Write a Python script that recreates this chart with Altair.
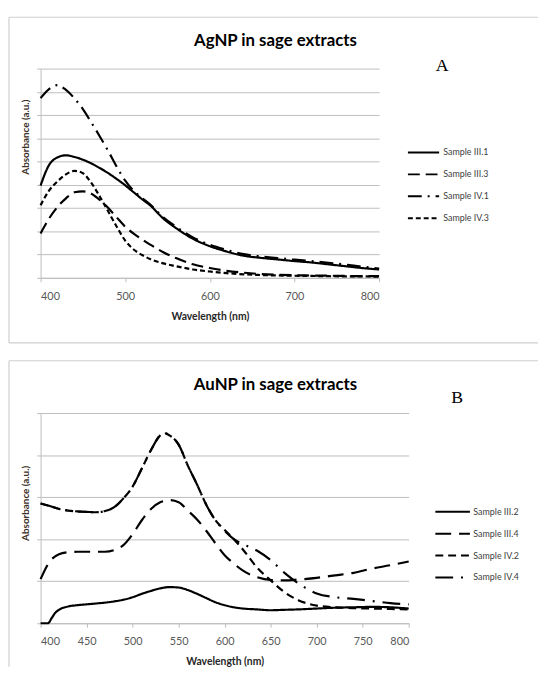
import altair as alt
import pandas as pd

# ---------------- Panel A: AgNP ----------------
title_A = "AgNP in sage extracts"
letter_A = "A"
series_A = ["Sample III.1", "Sample III.3", "Sample IV.1", "Sample IV.3"]
dash_A = [[1, 0], [12, 6], [14, 6, 2, 6], [5, 3]]
wl_A = [400, 410, 420, 430, 440, 450, 460, 470, 480, 490, 500, 510, 520, 530,
        545, 560, 580, 600, 620, 640, 660, 680, 700, 720, 740, 760, 780, 800]
A_III1 = [3.97, 4.85, 5.18, 5.27, 5.20, 5.08, 4.92, 4.72, 4.50, 4.25, 3.98, 3.68, 3.38, 3.10,
          2.55, 2.14, 1.68, 1.36, 1.13, 0.95, 0.86, 0.79, 0.72, 0.66, 0.58, 0.50, 0.42, 0.36]
A_III3 = [1.91, 2.55, 3.05, 3.42, 3.68, 3.72, 3.62, 3.35, 3.00, 2.60, 2.20, 1.90, 1.65, 1.42,
          1.10, 0.85, 0.58, 0.42, 0.30, 0.22, 0.16, 0.13, 0.11, 0.10, 0.09, 0.08, 0.07, 0.07]
A_IV1 = [7.73, 8.12, 8.29, 8.08, 7.72, 7.26, 6.68, 6.08, 5.45, 4.78, 4.18, 3.74, 3.43, 3.14,
         2.60, 2.20, 1.74, 1.42, 1.20, 1.02, 0.92, 0.85, 0.78, 0.72, 0.65, 0.57, 0.48, 0.40]
A_IV3 = [3.12, 3.75, 4.15, 4.45, 4.60, 4.50, 4.08, 3.50, 2.85, 2.20, 1.60, 1.22, 0.98, 0.80,
         0.62, 0.50, 0.36, 0.27, 0.20, 0.15, 0.12, 0.10, 0.09, 0.08, 0.07, 0.06, 0.06, 0.05]

# ---------------- Panel B: AuNP ----------------
title_B = "AuNP in sage extracts"
letter_B = "B"
series_B = ["Sample III.2", "Sample III.4", "Sample IV.2", "Sample IV.4"]
dash_B = [[1, 0], [16, 8], [8, 5], [18, 8, 2, 8]]
wl_B = [400, 410, 420, 430, 440, 450, 460, 470, 480, 490, 500, 510, 520, 530, 535, 540,
        550, 560, 570, 580, 590, 600, 610, 620, 635, 650, 665, 680, 700, 720, 740, 760, 780, 800]
B_III4 = [1.05, 1.47, 1.64, 1.69, 1.70, 1.70, 1.70, 1.70, 1.74, 1.86, 2.12, 2.45, 2.72, 2.88, 2.91, 2.93,
          2.88, 2.68, 2.47, 2.20, 1.90, 1.62, 1.42, 1.25, 1.10, 1.03, 1.02, 1.04, 1.08, 1.14, 1.20, 1.30, 1.38, 1.47]
B_IV2 = [2.85, 2.79, 2.72, 2.68, 2.66, 2.65, 2.64, 2.67, 2.76, 2.97, 3.25, 3.68, 4.12, 4.47, 4.52, 4.47,
         4.25, 3.75, 3.30, 2.82, 2.45, 2.22, 2.00, 1.75, 1.33, 1.02, 0.74, 0.55, 0.42, 0.38, 0.36, 0.35, 0.34, 0.33]
B_IV4 = [2.85, 2.79, 2.72, 2.68, 2.66, 2.65, 2.64, 2.67, 2.76, 2.97, 3.25, 3.68, 4.12, 4.47, 4.52, 4.47,
         4.25, 3.75, 3.30, 2.82, 2.45, 2.20, 2.00, 1.88, 1.73, 1.50, 1.20, 0.95, 0.71, 0.62, 0.58, 0.53, 0.48, 0.45]
wl_B_III2 = [400, 408, 412, 416, 420, 430, 440, 450, 460, 470, 480, 490, 500, 510, 520, 530, 540, 550,
             560, 570, 580, 590, 600, 610, 620, 635, 650, 665, 680, 700, 720, 740, 760, 780, 800]
B_III2 = [0.0, 0.0, 0.12, 0.25, 0.32, 0.40, 0.43, 0.45, 0.47, 0.49, 0.52, 0.56, 0.62, 0.70, 0.77, 0.83, 0.86, 0.85,
          0.79, 0.70, 0.60, 0.50, 0.43, 0.38, 0.35, 0.33, 0.31, 0.32, 0.33, 0.35, 0.37, 0.38, 0.39, 0.38, 0.35]

x_title = "Wavelength (nm)"
y_title = "Absorbance (a.u.)"


def long_df(items):
    rows = []
    for name, wls, vals in items:
        for w, v in zip(wls, vals):
            rows.append({"wavelength": w, "absorbance": v, "series": name})
    return pd.DataFrame(rows)


df_A = long_df([(series_A[0], wl_A, A_III1), (series_A[1], wl_A, A_III3),
                (series_A[2], wl_A, A_IV1), (series_A[3], wl_A, A_IV3)])
df_B = long_df([(series_B[0], wl_B_III2, B_III2), (series_B[1], wl_B, B_III4),
                (series_B[2], wl_B, B_IV2), (series_B[3], wl_B, B_IV4)])

FONT = "Lato"
GRID = "#bdbdbd"
BORDER = "#cfcfcf"


def panel(df, series, dashes, ymax, xvalues, width, height, title, letter,
          leg_x, leg_y, sym_size, lab_off, ytitle_y, letter_x, letter_y,
          b_top, b_bottom, draw_bottom):
    one = pd.DataFrame({"t": [title], "l": [letter]})
    lines = alt.Chart(df).mark_line(color="black", strokeWidth=2.2, interpolate="monotone",
                                    strokeCap="butt").encode(
        x=alt.X("wavelength:Q", scale=alt.Scale(domain=[400, 800], nice=False, zero=False),
                axis=alt.Axis(values=xvalues, title=x_title, grid=False, format="d",
                              labelPadding=9, titlePadding=10, tickSize=4)),
        y=alt.Y("absorbance:Q", scale=alt.Scale(domain=[0, ymax], nice=False),
                axis=alt.Axis(values=list(range(ymax + 1)), labels=False, title=y_title,
                              grid=True, tickSize=4, titleX=-10, titleY=ytitle_y,
                              titleColor="#3d3028", titleFontSize=10)),
        strokeDash=alt.StrokeDash("series:N", scale=alt.Scale(domain=series, range=dashes),
                                  legend=alt.Legend(orient="none", legendX=leg_x, legendY=leg_y,
                                                    title=None, symbolType="stroke",
                                                    symbolSize=sym_size, symbolStrokeWidth=2,
                                                    symbolStrokeColor="black", clipHeight=12,
                                                    rowPadding=10.2, labelFont=FONT,
                                                    labelFontSize=9, labelColor="#404040",
                                                    labelOffset=lab_off, padding=0)),
    )
    ttl = alt.Chart(one).mark_text(font=FONT, fontSize=17, fontWeight="bold", align="center",
                                   baseline="middle", color="black").encode(
        text="t:N", x=alt.value(238), y=alt.value(-28))
    let = alt.Chart(one).mark_text(font="Liberation Serif", fontSize=18, align="center",
                                   baseline="middle", color="black").encode(
        text="l:N", x=alt.value(letter_x), y=alt.value(letter_y))
    rules = [
        alt.Chart(one).mark_rule(color=BORDER, strokeWidth=1.2).encode(
            x=alt.value(-32), x2=alt.value(504), y=alt.value(b_top)),
        alt.Chart(one).mark_rule(color=BORDER, strokeWidth=1.2).encode(
            x=alt.value(-32), y=alt.value(b_top), y2=alt.value(b_bottom)),
    ]
    if draw_bottom:
        rules.append(alt.Chart(one).mark_rule(color=BORDER, strokeWidth=1.2).encode(
            x=alt.value(-32), x2=alt.value(504), y=alt.value(b_bottom)))
    return alt.layer(*rules, lines, ttl, let).properties(width=width, height=height)


pA = panel(df_A, series_A, dash_A, 9, [400, 500, 600, 700, 800], 343, 212, title_A, letter_A,
           371, 79, 1000, 3, 69, 407, -3, -52, 278, True)
pB = panel(df_B, series_B, dash_B, 5, list(range(400, 801, 50)), 373, 213, title_B, letter_B,
           399, 94, 1225, 2.5, 91, 422, -15, -53, 257, False)

chart = alt.vconcat(pA, pB, spacing=16).resolve_scale(
    x="independent", y="independent", strokeDash="independent"
).properties(
    padding={"left": 0, "top": 4, "right": 0, "bottom": 0}, background="white"
).configure_view(stroke=None).configure_axis(
    labelFont=FONT, labelFontSize=11, labelColor="#595959", tickColor=GRID,
    domainColor=GRID, gridColor=GRID, gridWidth=1, titleFont=FONT, titleFontSize=10.5,
    titleFontWeight="bold", titleColor="#262626"
)

chart.save("out.html", embed_options={"renderer": "svg", "actions": False})
